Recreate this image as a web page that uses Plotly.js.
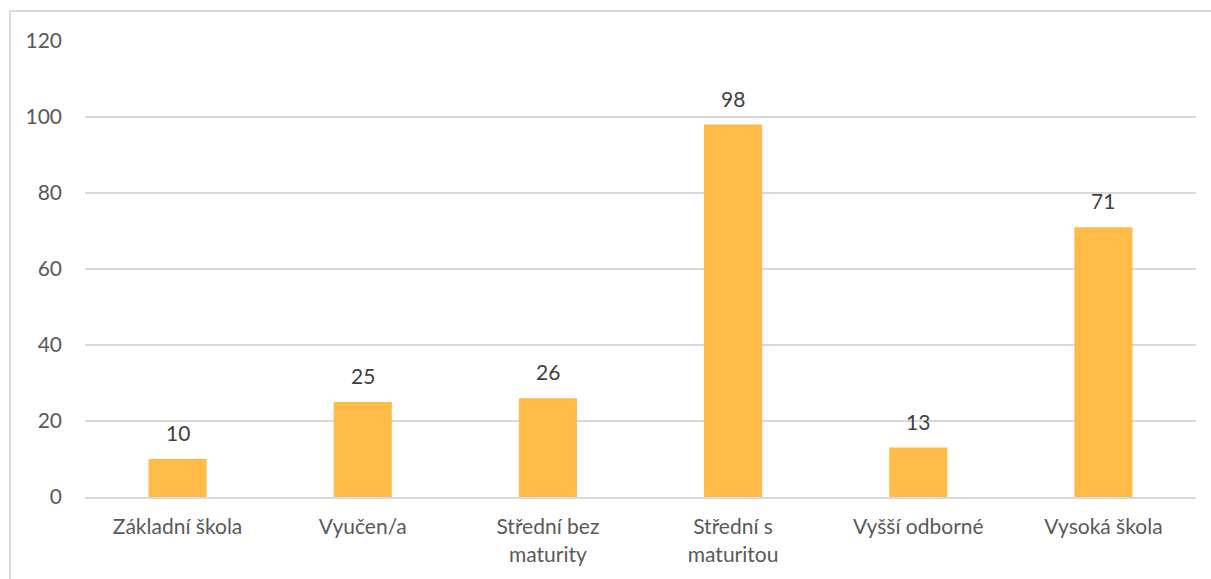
<!DOCTYPE html>
<html>
<head>
<meta charset="utf-8">
<script src="https://cdn.plot.ly/plotly-3.0.1.min.js"></script>
<style>
html,body{margin:0;padding:0;background:#fff;}
#chart{width:1211px;height:579px;}
</style>
</head>
<body>
<div id="chart"></div>
<script>
const categories = ["Základní škola", "Vyučen/a", "Střední bez maturity", "Střední s maturitou", "Vyšší odborné", "Vysoká škola"];
const tickLabels = ["Základní škola", "Vyučen/a", "Střední bez<br>maturity", "Střední s<br>maturitou", "Vyšší odborné", "Vysoká škola"];
const values = [10, 25, 26, 98, 13, 71];
const yTicks = [0, 20, 40, 60, 80, 100, 120];

const FONT = "Lato, 'Open Sans', sans-serif";
const FS = 21;

const trace = {
  type: 'bar',
  x: categories,
  y: values,
  marker: {color: '#FFBB47'},
  hoverinfo: 'none',
  cliponaxis: false
};

const annotations = categories.map((c, i) => ({
  x: c, y: values[i], xref: 'x', yref: 'y',
  text: String(values[i]), showarrow: false,
  yanchor: 'bottom', yshift: 12,
  font: {family: FONT, size: FS, color: '#404040'}
}));

const layout = {
  width: 1211, height: 579,
  margin: {l: 85, r: 15, t: 41, b: 82},
  paper_bgcolor: '#fff', plot_bgcolor: '#fff',
  bargap: 0.686,
  showlegend: false,
  font: {family: FONT, size: FS, color: '#595959'},
  xaxis: {
    type: 'category',
    tickvals: categories,
    ticktext: tickLabels,
    showgrid: false,
    showline: true, linecolor: '#d9d9d9', linewidth: 2,
    ticks: '',
    ticklabelstandoff: 10,
    tickfont: {family: FONT, size: FS, color: '#595959'},
    fixedrange: true
  },
  yaxis: {
    range: [0, 120],
    tickvals: yTicks,
    ticktext: yTicks.map(String),
    showgrid: true, gridcolor: '#d9d9d9', gridwidth: 2,
    zeroline: false,
    showline: false,
    ticks: '',
    ticklabelstandoff: 22,
    tickfont: {family: FONT, size: FS, color: '#595959'},
    fixedrange: true
  },
  annotations: annotations,
  shapes: [
    {type: 'line', xref: 'paper', yref: 'paper', x0: -0.0675, x1: -0.0675, y0: -0.3, y1: 1.066, line: {color: '#d9d9d9', width: 2}},
    {type: 'line', xref: 'paper', yref: 'paper', x0: -0.0675, x1: 1.05, y0: 1.066, y1: 1.066, line: {color: '#d9d9d9', width: 2}}
  ]
};

Plotly.newPlot('chart', [trace], layout, {displayModeBar: false, staticPlot: true});
</script>
</body>
</html>
